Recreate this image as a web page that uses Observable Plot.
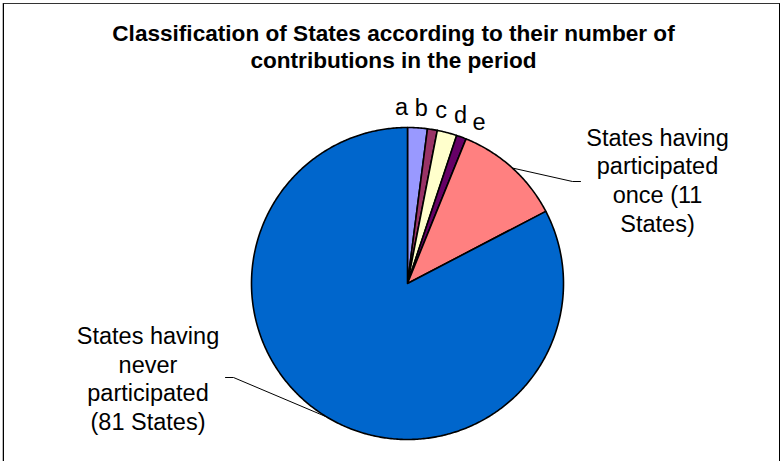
<!DOCTYPE html>
<html>
<head>
<meta charset="utf-8">
<script src="https://cdn.jsdelivr.net/npm/d3@7"></script>
<script src="https://cdn.jsdelivr.net/npm/@observablehq/plot@0.6"></script>
<style>
  body { margin: 0; background: #fff; font-family: "Liberation Sans", Arial, sans-serif; }
  #wrap { position: absolute; left: 0; top: 0; width: 781px; height: 461px; overflow: hidden; }
  #frame { position: absolute; left: 3px; top: 3px; width: 775px; height: 480px;
           border-top: 1px solid #333; border-left: 1px solid #000; border-right: 1px solid #000;
           box-shadow: -1px 0 0 #bbb; pointer-events: none; }
  #title { height: 80px; box-sizing: border-box; padding-top: 20px; padding-left: 6px;
           text-align: center; font-weight: bold; font-size: 22.6px; line-height: 27px; color: #000; }
  #chart svg { display: block; }
</style>
</head>
<body>
<div id="wrap">
  <div id="title">Classification of States according to their number of<br>contributions in the period</div>
  <div id="chart"></div>
  <div id="frame"></div>
</div>
<script>
// ---- data ----
const keys   = ["a", "b", "c", "d", "e", "once", "never"];
const values = [2, 1, 2, 0, 1, 11, 81];
const colors = ["#9999FF", "#993366", "#FFFFCC", "#CCFFFF", "#660066", "#FF8080", "#0066CC"];
const smallLabels = ["a", "b", "c", "d", "e"];
const bigLabels = {
  once:  "States having\nparticipated\nonce (11\nStates)",
  never: "States having\nnever\nparticipated\n(81 States)"
};

// ---- layout (pixels relative to pie centre, y up) ----
const R = 156;
const labelR = 176;
const labelSep = 6.5 * Math.PI / 180;
const bigLayout = {
  once:  {label: [250, 104],      elbow: [165, 102],  end: [173, 102]},
  never: {label: [-259.5, -94.4], elbow: [-174, -94], end: [-182, -94]}
};

const arcs = d3.pie().sort(null).value(d => d.value)
  (keys.map((k, i) => ({key: k, value: values[i]})));

const polar = (a, r) => ({x: r * Math.sin(a), y: r * Math.cos(a)});

// slice polygons
const pts = [];
for (const s of arcs) {
  if (s.data.value <= 0) continue;
  const n = Math.max(4, Math.ceil((s.endAngle - s.startAngle) / 0.01));
  pts.push({key: s.data.key, x: 0, y: 0});
  for (let j = 0; j <= n; j++) {
    const a = s.startAngle + (s.endAngle - s.startAngle) * j / n;
    pts.push({key: s.data.key, ...polar(a, R)});
  }
  pts.push({key: s.data.key, x: 0, y: 0});
}

// small labels: spread evenly around the centre of the group's angular extent
const small = arcs.filter(s => smallLabels.includes(s.data.key));
const groupMid = (small[0].startAngle + small[small.length - 1].endAngle) / 2;
const smallPts = small.map((s, i) => ({
  text: s.data.key,
  ...polar(groupMid + (i - (small.length - 1) / 2) * labelSep, labelR)
}));

// big labels + leader lines
const bigPts = [], leaders = [];
for (const k of Object.keys(bigLabels)) {
  const s = arcs.find(d => d.data.key === k);
  const m = (s.startAngle + s.endAngle) / 2;
  const L = bigLayout[k];
  bigPts.push({text: bigLabels[k], x: L.label[0], y: L.label[1]});
  leaders.push({key: k, ...polar(m, R)});
  leaders.push({key: k, x: L.elbow[0], y: L.elbow[1]});
  leaders.push({key: k, x: L.end[0], y: L.end[1]});
}

const chart = Plot.plot({
  width: 781,
  height: 381,
  margin: 0,
  x: {domain: [-407, 374], axis: null},
  y: {domain: [-178, 203], axis: null},
  color: {domain: keys, range: colors},
  style: {fontFamily: "'Liberation Sans', Arial, sans-serif", background: "transparent", color: "#000"},
  marks: [
    Plot.line(pts, {x: "x", y: "y", z: "key", fill: "key", stroke: "#000", strokeWidth: 1.6, strokeLinejoin: "round", curve: "linear"}),
    Plot.line(leaders, {x: "x", y: "y", z: "key", stroke: "#000", strokeWidth: 1}),
    Plot.text(smallPts, {x: "x", y: "y", text: "text", fontSize: 23.5, fill: "#000"}),
    Plot.text(bigPts, {x: "x", y: "y", text: "text", fontSize: 23.5, lineHeight: 1.22, textAnchor: "middle", fill: "#000"})
  ]
});
document.getElementById("chart").appendChild(chart);
</script>
</body>
</html>
